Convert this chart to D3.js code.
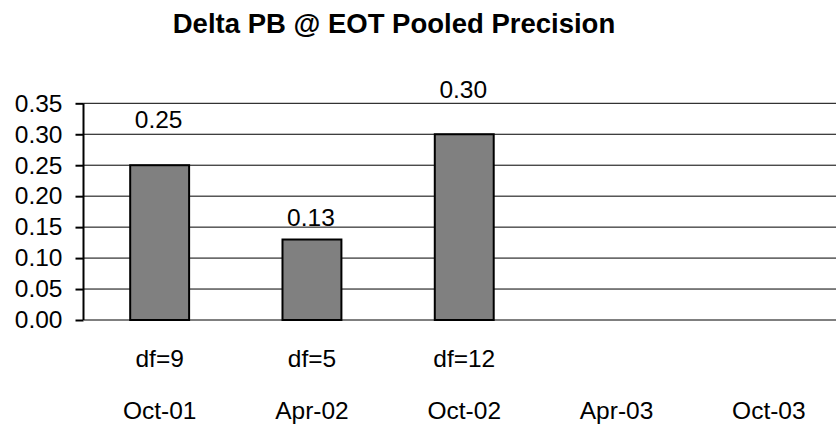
<!DOCTYPE html>
<html>
<head>
<meta charset="utf-8">
<script src="https://cdn.jsdelivr.net/npm/d3@7"></script>
<style>
  html, body { margin: 0; padding: 0; background: #fff; }
  svg { display: block; }
  text { font-family: Arial, "Liberation Sans", sans-serif; fill: #000; }
</style>
</head>
<body>
<svg id="chart" width="836" height="425"></svg>
<script>
// Chart data
const categories = ["Oct-01", "Apr-02", "Oct-02", "Apr-03", "Oct-03"];
const values = [0.25, 0.13, 0.30, null, null];
const dfLabels = ["df=9", "df=5", "df=12", "", ""];
const yTicks = [0, 0.05, 0.10, 0.15, 0.20, 0.25, 0.30, 0.35];
const title = "Delta PB @ EOT Pooled Precision";

// Vertical gap between each bar top and its value label
const labelLift = [37, 14, 36, 0, 0];

const W = 836, H = 425;
const plot = { left: 83.5, right: 845, top: 103.3, bottom: 320 };

const svg = d3.select("#chart");

const x = d3.scaleBand()
  .domain(categories)
  .range([plot.left, plot.right])
  .paddingInner(0.6)
  .paddingOuter(0.3);

const y = d3.scaleLinear()
  .domain([0, 0.35])
  .range([plot.bottom, plot.top]);

// Title
svg.append("text")
  .attr("x", 394)
  .attr("y", 33)
  .attr("text-anchor", "middle")
  .style("font-size", "27.5px")
  .style("font-weight", "bold")
  .text(title);

// Horizontal gridlines
svg.append("g")
  .selectAll("line")
  .data(yTicks)
  .join("line")
  .attr("x1", plot.left)
  .attr("x2", W)
  .attr("y1", d => y(d))
  .attr("y2", d => y(d))
  .attr("stroke", "#000")
  .attr("stroke-width", 1);

// Bars
const idx = d3.range(categories.length).filter(i => values[i] != null);
svg.append("g")
  .selectAll("rect")
  .data(idx)
  .join("rect")
  .attr("x", i => x(categories[i]) + 1)
  .attr("y", i => y(values[i]))
  .attr("width", x.bandwidth() - 2)
  .attr("height", i => y(0) - y(values[i]))
  .attr("fill", "#808080")
  .attr("stroke", "#000")
  .attr("stroke-width", 2);

// Value labels
svg.append("g")
  .selectAll("text")
  .data(idx)
  .join("text")
  .attr("x", i => x(categories[i]) + x.bandwidth() / 2 - 1)
  .attr("y", i => y(values[i]) - labelLift[i])
  .attr("text-anchor", "middle")
  .style("font-size", "24.5px")
  .text(i => values[i].toFixed(2));

// Y axis
const yAxis = d3.axisLeft(y)
  .tickValues(yTicks)
  .tickFormat(d3.format(".2f"))
  .tickSize(8)
  .tickPadding(13);

const gy = svg.append("g")
  .attr("transform", `translate(${plot.left},0)`)
  .call(yAxis);
gy.select(".domain").remove();
gy.selectAll(".tick line").attr("stroke", "#000").attr("stroke-width", 2);
gy.selectAll(".tick text")
  .attr("dy", null)
  .attr("y", 7.8)
  .style("font-size", "24.5px")
  .style("font-family", "Arial, 'Liberation Sans', sans-serif")
  .attr("fill", "#000");
gy.append("line")
  .attr("x1", 0).attr("x2", 0)
  .attr("y1", plot.top).attr("y2", plot.bottom)
  .attr("stroke", "#000")
  .attr("stroke-width", 2);

// Category axis labels (df row and date row)
const gx = svg.append("g");
gx.selectAll("text.df")
  .data(categories)
  .join("text")
  .attr("class", "df")
  .attr("x", (d, i) => x(d) + x.bandwidth() / 2)
  .attr("y", 367)
  .attr("text-anchor", "middle")
  .style("font-size", "24.5px")
  .text((d, i) => dfLabels[i]);

gx.selectAll("text.cat")
  .data(categories)
  .join("text")
  .attr("class", "cat")
  .attr("x", d => x(d) + x.bandwidth() / 2)
  .attr("y", 419)
  .attr("text-anchor", "middle")
  .style("font-size", "24.5px")
  .text(d => d);
</script>
</body>
</html>
